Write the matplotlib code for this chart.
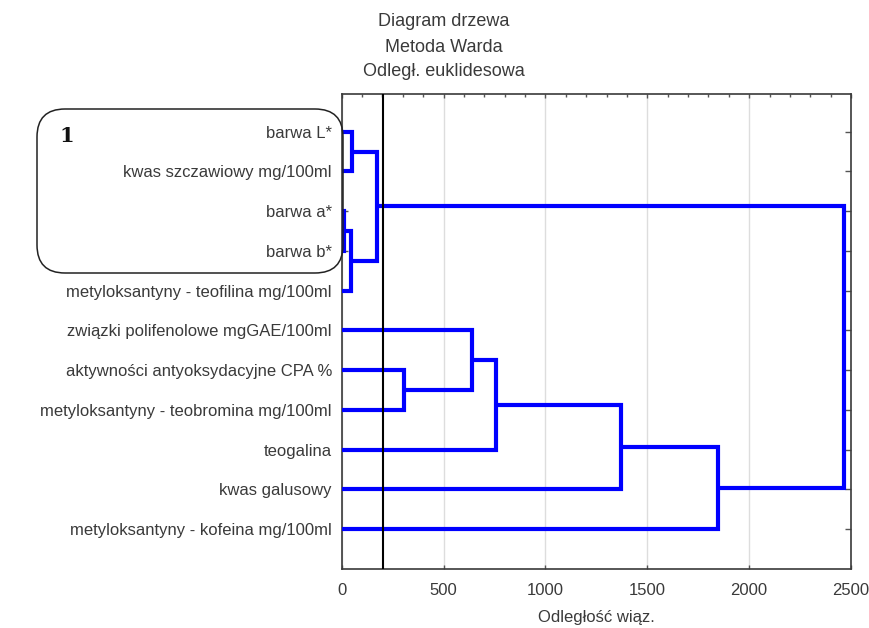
import matplotlib
matplotlib.use("Agg")
import matplotlib.pyplot as plt
from matplotlib.patches import FancyBboxPatch
from matplotlib.ticker import MultipleLocator

# Leaf labels, top to bottom
labels = [
    "barwa L*",
    "kwas szczawiowy mg/100ml",
    "barwa a*",
    "barwa b*",
    "metyloksantyny - teofilina mg/100ml",
    "związki polifenolowe mgGAE/100ml",
    "aktywności antyoksydacyjne CPA %",
    "metyloksantyny - teobromina mg/100ml",
    "teogalina",
    "kwas galusowy",
    "metyloksantyny - kofeina mg/100ml",
]

# Ward linkage: (cluster a, cluster b, linkage distance); new clusters numbered from 11
merge_a = [0, 2, 12, 11, 6, 5, 16, 17, 18, 14]
merge_b = [1, 3, 4, 13, 7, 15, 8, 9, 10, 19]
merge_dist = [49, 12, 44, 172, 307, 640, 755, 1370, 1847, 2466]

cut_distance = 203
x_ticks = [0, 500, 1000, 1500, 2000, 2500]

FONT = ["Liberation Sans", "DejaVu Sans"]
TXT = "#3a3a3a"
BLUE = "#0000ff"

fig = plt.figure(figsize=(8.69, 6.28), dpi=100)
ax = fig.add_axes([0.3932, 0.0940, 0.5861, 0.7564])

# position (y) and height (x) of every node
n = len(labels)
pos = {i: i + 1 for i in range(n)}
height = {i: 0.0 for i in range(n)}
for k, (a, b, d) in enumerate(zip(merge_a, merge_b, merge_dist)):
    cid = n + k
    ya, yb = pos[a], pos[b]
    ax.plot([height[a], d, d, height[b]], [ya, ya, yb, yb],
            color=BLUE, lw=3.0, solid_joinstyle="miter", solid_capstyle="butt", zorder=3)
    pos[cid] = (ya + yb) / 2
    height[cid] = d

ax.axvline(cut_distance, color="black", lw=1.5, zorder=4)

ax.set_xlim(0, 2500)
ax.set_ylim(12, 0.05)
ax.set_xticks(x_ticks)
ax.xaxis.set_minor_locator(MultipleLocator(100))
ax.set_xticklabels([str(v) for v in x_ticks], fontfamily=FONT, fontsize=12, color=TXT)
ax.set_yticks(range(1, n + 1))
ax.set_yticklabels(labels, fontfamily=FONT, fontsize=12, color=TXT)
ax.tick_params(axis="y", direction="in", length=4, width=1, color="#555555",
               left=True, right=True, pad=7)
ax.tick_params(axis="x", which="major", direction="in", length=3, width=1,
               color="#555555", top=True, bottom=True, pad=10)
ax.tick_params(axis="x", which="minor", direction="in", length=2, width=1,
               color="#555555", top=True, bottom=False)
ax.grid(axis="x", which="major", color="#dddddd", lw=1, zorder=0)
for s in ax.spines.values():
    s.set_color("#3a3a3a")
    s.set_linewidth(1.2)

ax.set_xlabel("Odległość wiąz.", fontfamily=FONT, fontsize=12, color=TXT, labelpad=9)

for i, line in enumerate(["Diagram drzewa", "Metoda Warda", "Odległ. euklidesowa"]):
    fig.text(444 / 869, 1 - (22 + 25 * i) / 628, line, ha="center", va="center",
             fontfamily=FONT, fontsize=13, color=TXT)

# overlay in pixel units for the highlighted group
ov = fig.add_axes([0, 0, 1, 1], facecolor="none")
ov.set_xlim(0, 869)
ov.set_ylim(628, 0)
ov.axis("off")
ov.add_patch(FancyBboxPatch((37, 109), 306, 164,
                            boxstyle="round,pad=0,rounding_size=28",
                            fill=False, ec="#222222", lw=1.1))
ov.text(67, 136, "1", ha="center", va="center", fontsize=15, fontweight="bold",
        fontfamily=["DejaVu Serif"], color="#111111")

fig.savefig("out.png", dpi=100, facecolor="white")
